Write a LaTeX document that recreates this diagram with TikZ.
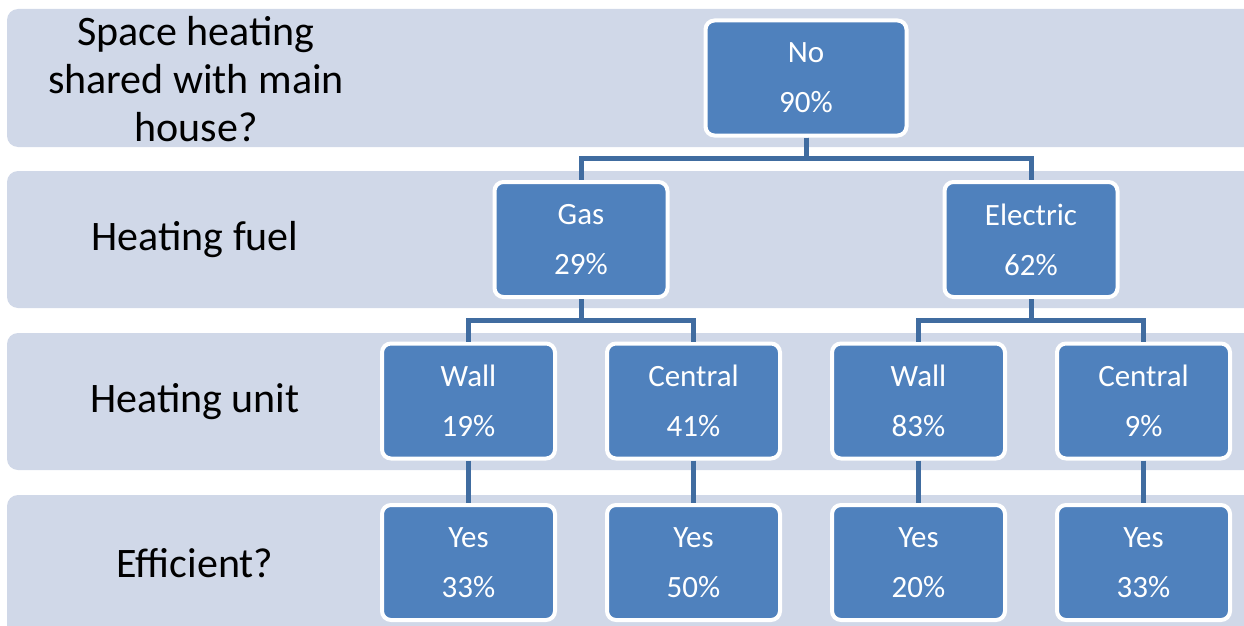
\documentclass[tikz,border=0pt]{standalone}
\usepackage{fontspec}
\setmainfont{Carlito}
\usetikzlibrary{positioning}
\definecolor{bandgray}{RGB}{208,216,232}
\definecolor{boxblue}{RGB}{79,129,189}
\definecolor{linkblue}{RGB}{64,108,160}

\begin{document}
\begin{tikzpicture}[%
x=1pt, y=-1pt,
node distance=161.5pt and 225pt,
on grid,
band/.style={fill=bandgray, rounded corners=11pt},
box/.style={draw=white, line width=4pt, fill=boxblue, rounded corners=9pt,
  minimum width=173pt, minimum height=115pt, text=white, align=center,
  font=\fontsize{31}{50}\selectfont},
link/.style={draw=linkblue, line width=5pt},
rowlabel/.style={align=center, font=\fontsize{42}{48}\selectfont}
]
\useasboundingbox (0,0) rectangle (1244,626);
\clip (0,0) rectangle (1244,626);

% background rows
\fill[band] (7,9) rectangle (1260,147);
\fill[band] (7,171) rectangle (1260,308);
\fill[band] (7,333) rectangle (1260,470);
\fill[band] (7,495) rectangle (1260,650);

% row labels
\node[rowlabel] (lshared) at (196,79) {Space heating\\shared with main\\house?};
\node[rowlabel] (lfuel) at (195,240) {Heating fuel};
\node[rowlabel] (lunit) at (195,401.5) {Heating unit};
\node[rowlabel] (leff) at (195,563) {Efficient?};

% tree
\node[box, minimum width=201pt] (no) at (806,78) {No\\90\%};
\node[box] (gas) [below left=of no] {Gas\\29\%};
\node[box] (elec) [below right=of no] {Electric\\62\%};
\node[box] (gaswall) [below left=161.5pt and 112.5pt of gas] {Wall\\19\%};
\node[box] (gascentral) [below right=161.5pt and 112.5pt of gas] {Central\\41\%};
\node[box] (elecwall) [below left=161.5pt and 112.5pt of elec] {Wall\\83\%};
\node[box] (eleccentral) [below right=161.5pt and 112.5pt of elec] {Central\\9\%};
\node[box] (gaswalleff) [below=of gaswall] {Yes\\33\%};
\node[box] (gascentraleff) [below=of gascentral] {Yes\\50\%};
\node[box] (elecwalleff) [below=of elecwall] {Yes\\20\%};
\node[box] (eleccentraleff) [below=of eleccentral] {Yes\\33\%};

% connectors
\draw[link] (no.south) -- ++(0,21) -| (gas.north);
\draw[link] (no.south) -- ++(0,21) -| (elec.north);
\draw[link] (gas.south) -- ++(0,21) -| (gaswall.north);
\draw[link] (gas.south) -- ++(0,21) -| (gascentral.north);
\draw[link] (elec.south) -- ++(0,21) -| (elecwall.north);
\draw[link] (elec.south) -- ++(0,21) -| (eleccentral.north);
\draw[link] (gaswall) -- (gaswalleff);
\draw[link] (gascentral) -- (gascentraleff);
\draw[link] (elecwall) -- (elecwalleff);
\draw[link] (eleccentral) -- (eleccentraleff);

\end{tikzpicture}
\end{document}
